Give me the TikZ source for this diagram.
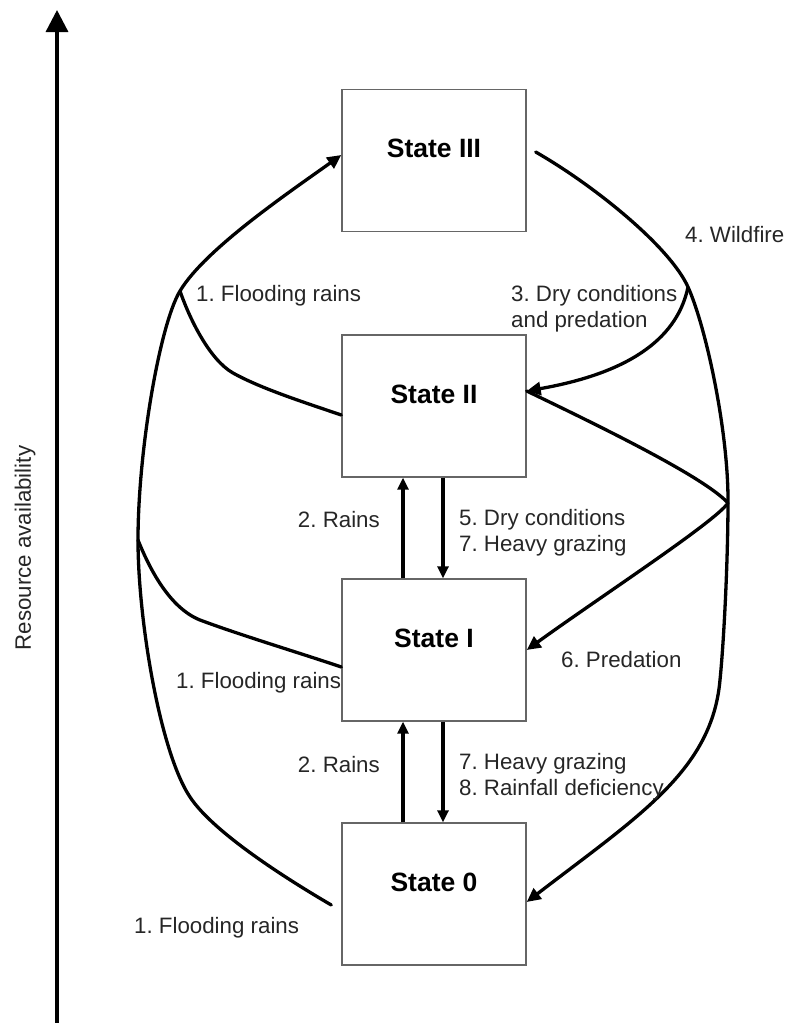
\documentclass[tikz,border=0pt]{standalone}
\usepackage{fontspec}
\setmainfont{Liberation Sans}
\usetikzlibrary{arrows.meta}
\frenchspacing
\begin{document}
\begin{tikzpicture}[x=1pt,y=-1pt,
  statebox/.style={draw=black!60, line width=1.4pt, minimum width=184pt, minimum height=142pt, inner sep=0pt},
  statetext/.style={font=\fontsize{26.5}{30}\selectfont\bfseries, inner sep=0pt, yshift=12pt},
  lbl/.style={font=\fontsize{22.3}{26}\selectfont, text=black!85, inner sep=0pt, align=left},
  curve/.style={line width=3.3pt, line cap=round, line join=round},
  tipc/.style={-{Triangle[width=13pt,length=14pt]}},
  tipv/.style={-{Triangle[width=11pt,length=12pt]}},
  ]
\useasboundingbox (0,0) rectangle (787,1023);

% axis
\coordinate (axb) at (57,1023);
\coordinate (axt) at (57,10);
\draw[line width=3.3pt, -{Triangle[width=22pt,length=22pt]}] (axb) -- (axt);
\node[lbl, rotate=90] (axlbl) at (25,548) {Resource availability};

% states
\node[statebox, label={[statetext]center:State III}] (s3) at (434,160.5) {};
\node[statebox, label={[statetext]center:State II}] (s2) at (434,406) {};
\node[statebox, label={[statetext]center:State I}] (s1) at (434,650) {};
\node[statebox, label={[statetext]center:State 0}] (s0) at (434,894) {};

% vertical arrows
\draw[curve, line cap=butt, tipv] ([xshift=-31pt]s1.north) -- ([xshift=-31pt]s2.south);
\draw[curve, line cap=butt, tipv] ([xshift=9pt]s2.south) -- ([xshift=9pt]s1.north);
\draw[curve, line cap=butt, tipv] ([xshift=-31pt]s0.north) -- ([xshift=-31pt]s1.south);
\draw[curve, line cap=butt, tipv] ([xshift=9pt]s1.south) -- ([xshift=9pt]s0.north);

% anchor coordinates
\coordinate (l0) at ([shift={(-10,11)}]s0.west);
\coordinate (l3) at ([shift={(0,-5.5)}]s3.west);
\coordinate (l1) at ([shift={(0,17)}]s1.west);
\coordinate (l2) at ([shift={(0,9)}]s2.west);
\coordinate (r3) at ([shift={(9,-8.5)}]s3.east);
\coordinate (r0) at ([shift={(0,8)}]s0.east);
\coordinate (r2) at ([shift={(0,-15)}]s2.east);
\coordinate (r1) at (s1.east);
\coordinate (jl1) at (138,540);
\coordinate (jl2) at (180,291);
\coordinate (jr1) at (688,287);
\coordinate (jr2) at (728,503);

% left big curve: State 0 -> State III
\draw[curve, tipc] (l0) .. controls (297,885) and (215,835) .. (190,797)
  .. controls (160,752) and (138,620) .. (jl1)
  .. controls (138,450) and (160,324) .. (jl2)
  .. controls (205,249) and (291,191) .. (l3);
% branch from State I
\draw[curve] (l1) .. controls (300,653) and (240,635) .. (200,620)
  .. controls (170,608) and (150,570) .. (jl1);
% branch from State II
\draw[curve] (l2) .. controls (300,401) and (260,388) .. (233,373)
  .. controls (210,360) and (190,320) .. (jl2);

% right big curve: State III -> State 0
\draw[curve, tipc] (r3) .. controls (595,186) and (670,247) .. (jr1)
  .. controls (706,327) and (728,430) .. (728,500)
  .. controls (728,560) and (724,640) .. (720,680)
  .. controls (712,770) and (640,815) .. (r0);
% branch 3 to State II
\draw[curve, tipc] (jr1) .. controls (678,335) and (635,372) .. (r2);
% predation: State II -> State I
\draw[curve, tipc] (r2) .. controls (610,431) and (705,478) .. (jr2)
  .. controls (715,522) and (600,597) .. (r1);

% labels
\node[lbl, anchor=west] (f3) at (196,296) {1. Flooding rains};
\node[lbl, anchor=west] (dc) at (511,309) {3. Dry conditions\\and predation};
\node[lbl, anchor=west] (wf) at (685,235) {4. Wildfire};
\node[lbl, anchor=east] (r21) at (380,520) {2. Rains};
\node[lbl, anchor=west] (d57) at (459,533) {5. Dry conditions\\7. Heavy grazing};
\node[lbl, anchor=west] (f1) at (176,683) {1. Flooding rains};
\node[lbl, anchor=west] (pr) at (561,660) {6. Predation};
\node[lbl, anchor=east] (r10) at (380,765) {2. Rains};
\node[lbl, anchor=west] (d78) at (459,777) {7. Heavy grazing\\8. Rainfall deficiency};
\node[lbl, anchor=west] (f0) at (134,928) {1. Flooding rains};
\end{tikzpicture}
\end{document}
